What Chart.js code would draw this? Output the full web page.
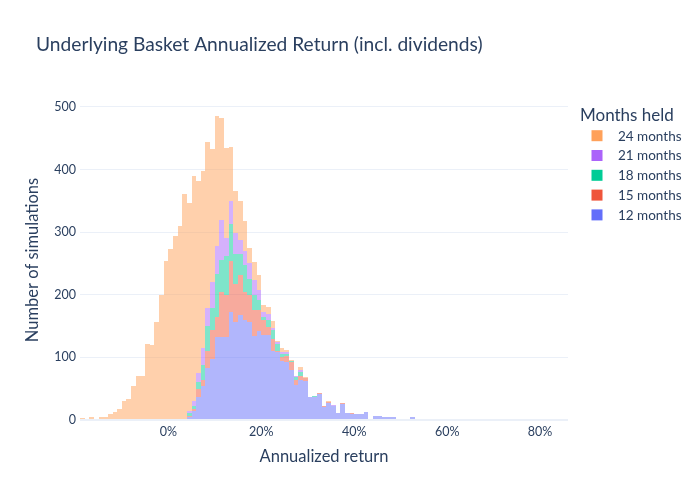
<!DOCTYPE html>
<html>
<head>
<meta charset="utf-8">
<script src="https://cdn.jsdelivr.net/npm/chart.js@4.4.0/dist/chart.umd.min.js"></script>
<style>
html,body{margin:0;padding:0;background:#ffffff;}
#wrap{width:700px;height:500px;position:relative;}
canvas{display:block;}
</style>
</head>
<body>
<div id="wrap"><canvas id="c" width="700" height="500"></canvas></div>
<script>
// ---------- data ----------
const chartTitle = 'Underlying Basket Annualized Return (incl. dividends)';
const legendTitle = 'Months held';
const xAxisTitle = 'Annualized return';
const yAxisTitle = 'Number of simulations';
const xTickValues = [0, 20, 40, 60, 80];          // percent
const yTickValues = [0, 100, 200, 300, 400, 500];

// left edge of each 1% bin (percent)
const binStarts = [
 -19,-18,-17,-16,-15,-14,-13,-12,-11,-10,
  -9, -8, -7, -6, -5, -4, -3, -2, -1,  0,
   1,  2,  3,  4,  5,  6,  7,  8,  9, 10,
  11, 12, 13, 14, 15, 16, 17, 18, 19, 20,
  21, 22, 23, 24, 25, 26, 27, 28, 29, 30,
  31, 32, 33, 34, 35, 36, 37, 38, 39, 40,
  41, 42, 43, 44, 45, 46, 47, 48, 49, 50,
  51, 52, 53, 54, 55, 56, 57, 58, 59, 60,
  61, 62, 63, 64, 65, 66, 67, 68, 69, 70,
  71, 72, 73, 74, 75, 76, 77, 78, 79, 80,
  81, 82, 83, 84, 85
];

const months12 = [
   0,0,0,0,0,0,0,0,0,0,
   0,0,0,0,0,0,0,0,0,0,
   0,0,0,4,14,36,55,83,98,132,
   133,133,172,156,168,160,157,134,142,136,
   136,110,108,94,93,80,56,64,63,36,
   36,41,21,27,23,11,26,11,10,10,
   10,12,1,6,6,4,4,4,2,2,
   2,4,1,2,1,2,1,1,0,0,
   1,0,0,0,0,0,0,0,0,0,
   0,0,0,0,0,0,0,0,0,0,
   0,0,0,0,1
];
const months15 = [
   0,0,0,0,0,0,0,0,0,0,
   0,0,0,0,0,0,0,0,0,0,
   0,0,0,3,4,13,9,27,46,33,
   71,67,82,61,63,44,43,41,33,24,
   13,20,2,7,9,13,8,7,4,1,
   1,2,1,1,0,0,1,0,1,0,
   0,1,0,0,0,0,0,0,0,0,
   0,0,0,0,0,0,0,0,0,0,
   0,0,0,0,0,0,0,0,0,0,
   0,0,0,0,0,0,0,0,0,0,
   0,0,0,0,0
];
const months18 = [
   0,0,0,0,0,0,0,0,0,0,
   0,0,0,0,0,0,0,0,0,0,
   0,0,2,4,4,11,24,40,35,68,
   52,62,59,48,34,44,25,25,17,5,
   11,14,11,4,4,2,4,6,0,0,
   1,0,0,1,0,0,0,0,0,0,
   0,0,0,0,0,0,0,0,0,0,
   0,0,0,0,0,0,0,0,0,0,
   0,0,0,0,0,0,0,0,0,0,
   0,0,0,0,0,0,0,0,0,0,
   0,0,0,0,0
];
const months21 = [
   0,0,0,0,0,0,0,0,0,0,
   0,0,0,0,0,0,0,0,0,0,
   0,0,0,3,8,15,27,29,41,45,
   64,29,37,33,22,22,25,24,16,7,
   10,3,3,3,3,0,2,3,0,0,
   0,0,0,0,1,0,0,0,0,0,
   0,0,0,0,0,0,0,0,0,0,
   0,0,0,0,0,0,0,0,0,0,
   0,0,0,0,0,0,0,0,0,0,
   0,0,0,0,0,0,0,0,0,0,
   0,0,0,0,0
];
const months24 = [
   3,1,4,0,4,4,10,13,18,30,
   33,54,71,70,121,120,156,200,254,273,
   294,310,359,333,360,307,283,265,212,208,
   162,144,86,68,63,47,24,28,23,11,
   11,11,2,7,3,1,0,4,1,0,
   0,0,0,1,0,0,0,0,0,0,
   0,0,0,0,0,0,0,0,0,0,
   0,0,0,0,0,0,0,0,0,0,
   0,0,0,0,0,0,0,0,0,0,
   0,0,0,0,0,0,0,0,0,0,
   0,0,0,0,0
];

const seriesNames = ['12 months', '15 months', '18 months', '21 months', '24 months'];
const seriesValues = [months12, months15, months18, months21, months24];

// ---------- styles ----------
const seriesColors = ['#636efa', '#ef553b', '#00cc96', '#ab63fa', '#ffa15a'];
const barOpacity = 0.5;
const textColor = '#2a3f5f';
const gridColor = '#ebf0f8';
const FONT = 'Lato, "Source Sans Pro", "Noto Sans", sans-serif';

function withAlpha(hex, a) {
  const n = parseInt(hex.slice(1), 16);
  return `rgba(${(n >> 16) & 255},${(n >> 8) & 255},${n & 255},${a})`;
}

const datasets = seriesNames.map((name, i) => ({
  label: name,
  data: binStarts.map((b, j) => ({ x: b + 0.5, y: seriesValues[i][j] })),
  backgroundColor: withAlpha(seriesColors[i], barOpacity),
  legendColor: seriesColors[i],
  borderWidth: 0,
  inflateAmount: 0,
  barPercentage: 1.0,
  categoryPercentage: 1.0,
  stack: 'all'
}));

// crisp bar edges (like SVG crispEdges): snap computed bar bounds to whole pixels
const snapPlugin = {
  id: 'snap',
  beforeDatasetsDraw(chart) {
    chart.data.datasets.forEach((ds, i) => {
      chart.getDatasetMeta(i).data.forEach(el => {
        const l = Math.round(el.x - el.width / 2);
        const r = Math.round(el.x + el.width / 2);
        el.x = (l + r) / 2;
        el.width = r - l;
        el.y = Math.round(el.y);
        el.base = Math.round(el.base);
      });
    });
  }
};

// title + legend drawn in Plotly's positions
const decorPlugin = {
  id: 'decor',
  afterDraw(chart) {
    const ctx = chart.ctx;
    ctx.save();
    ctx.font = `20px ${FONT}`;
    const w20 = ctx.measureText(chartTitle).width;
    const titleSize = 20 * 447 / w20;
    ctx.font = `${titleSize}px ${FONT}`;
    ctx.fillStyle = textColor;
    ctx.textBaseline = 'alphabetic';
    ctx.textAlign = 'left';
    ctx.fillText(chartTitle, 36, 51);

    const ca = chart.chartArea;
    const lx = ca.right + 12;
    ctx.font = `17px ${FONT}`;
    ctx.fillText(legendTitle, lx, 121);
    const items = chart.data.datasets.slice().reverse();
    items.forEach((ds, i) => {
      const cy = 135.7 + i * 19.8;
      ctx.fillStyle = ds.legendColor;
      ctx.fillRect(lx + 11.5, cy - 5.5, 11, 11);
      ctx.fillStyle = textColor;
      ctx.font = `13.5px ${FONT}`;
      ctx.textBaseline = 'middle';
      ctx.fillText(ds.label, lx + 38, cy + 0.5);
    });
    ctx.restore();
  }
};

function draw() {
  new Chart(document.getElementById('c'), {
    type: 'bar',
    data: { datasets },
    plugins: [snapPlugin, decorPlugin],
    options: {
      responsive: false,
      animation: false,
      devicePixelRatio: 1,
      layout: { padding: { top: 100, right: 132, left: 0, bottom: 0 } },
      plugins: {
        legend: { display: false },
        title: { display: false },
        tooltip: { enabled: false }
      },
      scales: {
        x: {
          type: 'linear',
          stacked: true,
          offset: false,
          min: binStarts[0],
          max: binStarts[binStarts.length - 1] + 1,
          afterBuildTicks: axis => { axis.ticks = xTickValues.map(v => ({ value: v })); },
          afterFit: s => { s.height = 80; },
          grid: { display: false, offset: false, drawTicks: false },
          border: { display: false },
          ticks: {
            autoSkip: false, maxRotation: 0,
            padding: 4,
            color: textColor,
            font: { family: FONT, size: 12.5 },
            callback: v => v + '%'
          },
          title: {
            display: true, text: xAxisTitle, color: textColor,
            font: { family: FONT, size: 16.5 },
            padding: { top: 0, bottom: 33 }
          }
        },
        y: {
          type: 'linear',
          stacked: true,
          min: 0,
          max: 511,
          afterBuildTicks: axis => { axis.ticks = yTickValues.map(v => ({ value: v })); },
          afterFit: s => { s.width = 80; },
          grid: {
            color: gridColor,
            lineWidth: c => (c.tick && c.tick.value === 0 ? 2 : 1),
            drawTicks: false
          },
          border: { display: false },
          ticks: {
            padding: 4,
            color: textColor,
            font: { family: FONT, size: 12.5 }
          },
          title: {
            display: true, text: yAxisTitle, color: textColor,
            font: { family: FONT, size: 16.5 },
            padding: { top: 23, bottom: 0 }
          }
        }
      }
    }
  });
}

if (document.fonts && document.fonts.load) {
  Promise.all([document.fonts.load('16px Lato')]).then(draw, draw);
} else {
  draw();
}
</script>
</body>
</html>
